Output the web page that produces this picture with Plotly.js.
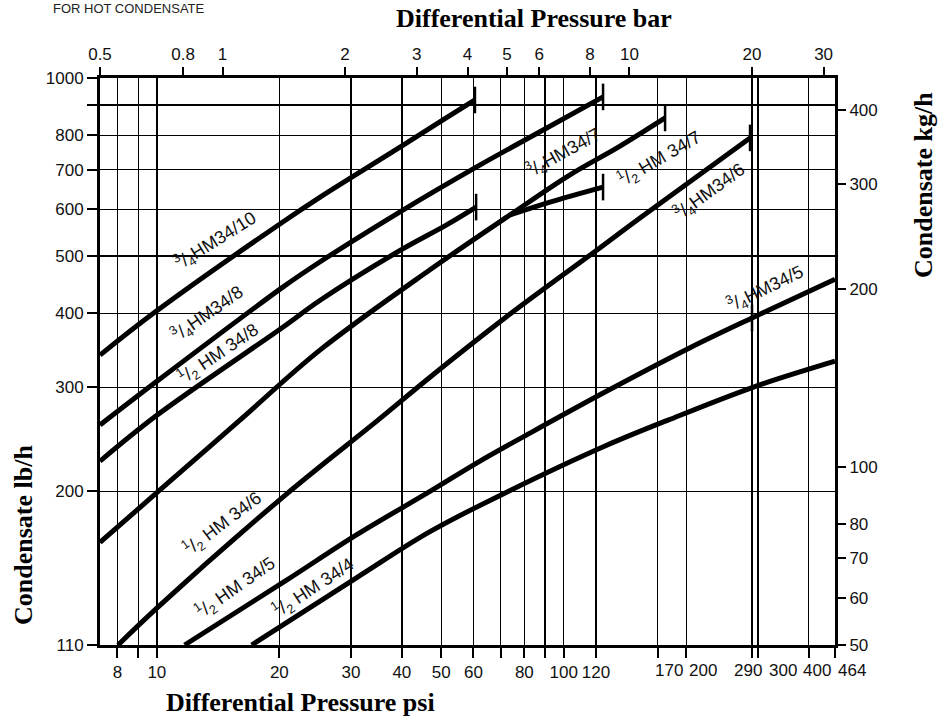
<!DOCTYPE html>
<html>
<head>
<meta charset="utf-8">
<script src="https://cdn.plot.ly/plotly-3.0.1.min.js"></script>
<style>html,body{margin:0;padding:0;background:#fff;}#chart{width:940px;height:719px;}</style>
</head>
<body>
<div id="chart"></div>
<script>
// ---------- axis data ----------
const psiRange = [7.25, 464];
const barRange = [0.5, 32];
const lbRange = [110, 1000];
const kgRange = [50, 453.6];
const psiTicks = [8, 9, 10, 20, 30, 40, 50, 60, 70, 80, 90, 100, 120, 170, 200, 290, 300, 400, 464];
const psiTickText = ['8', '', '10', '20', '30', '40', '50', '60', '', '80', '', '100', '120', '170', '200', '290', '300', '400', '464'];
const barTicks = [0.5, 0.8, 1, 2, 3, 4, 5, 6, 8, 10, 20, 30];
const barTickText = ['0.5', '0.8', '1', '2', '3', '4', '5', '6', '8', '10', '20', '30'];
const lbTicks = [110, 200, 300, 400, 500, 600, 700, 800, 900, 1000];
const lbTickText = ['110', '200', '300', '400', '500', '600', '700', '800', '', '1000'];
const kgTicks = [50, 60, 70, 80, 100, 200, 300, 400];
const kgTickText = ['50', '60', '70', '80', '100', '200', '300', '400'];

// ---------- series (psi, lb/h) ----------
const hm10_34_psi = [7.25, 9.9, 20.4, 25.2, 39.6, 51.4, 60.5];
const hm10_34_lb  = [340, 402, 571, 629, 764, 856, 918];

const hm8_34_psi = [7.25, 10.0, 20.4, 25.2, 39.6, 62.3, 87.4, 124.9];
const hm8_34_lb  = [259, 307, 443, 489, 594, 713, 811, 929];

const hm8_12_psi = [7.25, 10.0, 20.4, 25.2, 39.6, 51.4, 60.9];
const hm8_12_lb  = [225, 269, 379, 421, 511, 564, 605];

const hm7_common_psi = [7.25, 10.0, 16.0, 25.2, 46.9, 73.8];
const hm7_common_lb  = [164, 199, 264, 347, 474, 587];
const hm7_34_psi = [103.6, 137.5, 177.4];
const hm7_34_lb  = [686, 767, 856];
const hm7_12_psi = [92.5, 124.9];
const hm7_12_lb  = [617, 654];

const hm6_psi = [8.03, 10.0, 20.65, 34.95, 46.9, 73.8, 120.7, 153.9, 286.9];
const hm6_lb  = [110, 127, 197, 264, 312, 399, 512, 580, 792];

const hm5_psi = [11.7, 20.65, 31.0, 46.9, 61.5, 82.6, 126.3, 204.3, 290.1, 464];
const hm5_lb  = [110, 141, 169, 200, 224, 251, 294.5, 350, 393, 457];
const hm5_12_limit_index = 8; // 1/2 HM 34/5 ends here, 3/4 continues

const hm4_psi = [17.1, 31.0, 46.9, 73.0, 126.3, 180.4, 291.7, 464];
const hm4_lb  = [110, 143, 171, 200, 238.7, 264, 300, 332];

// ---------- labels ----------
const labelTexts = [
  '<sup>3</sup>/<sub>4</sub>HM34/10',
  '<sup>3</sup>/<sub>4</sub>HM34/8',
  '<sup>1</sup>/<sub>2</sub> HM 34/8',
  '<sup>1</sup>/<sub>2</sub> HM 34/6',
  '<sup>1</sup>/<sub>2</sub> HM 34/5',
  '<sup>1</sup>/<sub>2</sub> HM 34/4',
  '<sup>3</sup>/<sub>4</sub>HM34/7',
  '<sup>1</sup>/<sub>2</sub> HM 34/7',
  '<sup>3</sup>/<sub>4</sub>HM34/6',
  '<sup>3</sup>/<sub>4</sub>HM34/5'
];

// ---------- layout geometry (pixels) ----------
const W = 940, H = 719;
const L = 100, R = 835, T = 78, B = 645;
const px2x = p => (p - L) / (R - L);
const py2y = p => (B - p) / (B - T);

// label placement: [cx, cy, angle, boxWidth]
const labelPos = [
  [215, 240, -32, 104],
  [207, 313, -35, 96],
  [218, 353, -34, 106],
  [222, 523, -37, 106],
  [235, 587, -35, 106],
  [313, 587, -33, 106],
  [563, 152, -29, 96],
  [659, 158, -30, 106],
  [709, 191, -36, 96],
  [765, 288, -26, 96]
];
// crowded bottom tick labels are drawn beside their ticks with a pixel shift
const crowdedShift = {170: 11, 200: 17, 290: -4, 300: 25, 400: 8, 464: 17};

const curveLine = {color: '#000', width: 5, shape: 'spline', smoothing: 1};
const traces = [];
function addCurve(xs, ys, name) {
  traces.push({x: xs, y: ys, type: 'scatter', mode: 'lines', line: curveLine, name: name, hoverinfo: 'x+y+name'});
}
addCurve(hm10_34_psi, hm10_34_lb, '3/4HM34/10');
addCurve(hm8_34_psi, hm8_34_lb, '3/4HM34/8');
addCurve(hm8_12_psi, hm8_12_lb, '1/2 HM 34/8');
addCurve(hm7_common_psi.concat(hm7_34_psi), hm7_common_lb.concat(hm7_34_lb), '3/4HM34/7');
addCurve([hm7_common_psi[hm7_common_psi.length - 1]].concat(hm7_12_psi), [hm7_common_lb[hm7_common_lb.length - 1]].concat(hm7_12_lb), '1/2 HM 34/7');
addCurve(hm6_psi, hm6_lb, 'HM34/6');
addCurve(hm5_psi, hm5_lb, 'HM34/5');
addCurve(hm4_psi, hm4_lb, '1/2 HM 34/4');

// end-of-range markers
const last = a => a[a.length - 1];
const endX = [last(hm10_34_psi), last(hm8_34_psi), last(hm8_12_psi), last(hm7_34_psi), last(hm7_12_psi), last(hm6_psi), hm5_psi[hm5_12_limit_index]];
const endY = [last(hm10_34_lb), last(hm8_34_lb), last(hm8_12_lb), last(hm7_34_lb), last(hm7_12_lb), last(hm6_lb), hm5_lb[hm5_12_limit_index]];
traces.push({x: endX, y: endY, type: 'scatter', mode: 'markers', hoverinfo: 'skip', showlegend: false,
  marker: {symbol: 'line-ns', size: 19, color: '#000', line: {color: '#000', width: 2.5}}});

// invisible trace so the bar / kg/h axes exist
traces.push({x: barRange, y: kgRange, xaxis: 'x2', yaxis: 'y2', type: 'scatter', mode: 'markers',
  marker: {opacity: 0}, hoverinfo: 'skip', showlegend: false});

const tickFont = {family: 'Liberation Sans, Arial, sans-serif', size: 17, color: '#111'};
const titleFont = {family: 'Liberation Serif, Times New Roman, serif', size: 26, color: '#000', weight: 'bold'};
const lg = Math.log10;

const annotations = [];
const shapes = [];
labelPos.forEach((p, i) => {
  const [cx, cy, ang, w] = p;
  annotations.push({text: labelTexts[i], xref: 'paper', yref: 'paper', x: px2x(cx), y: py2y(cy),
    xanchor: 'center', yanchor: 'middle', showarrow: false, textangle: ang,
    font: {family: 'Liberation Sans, Arial, sans-serif', size: 18, color: '#111'}});
  const a = ang * Math.PI / 180, h = 24;
  const ux = Math.cos(a), uy = Math.sin(a), nx = -Math.sin(a), ny = Math.cos(a);
  const pts = [[-1, -1], [1, -1], [1, 1], [-1, 1]].map(([s, t]) =>
    [cx + s * w / 2 * ux + t * h / 2 * nx, cy + s * w / 2 * uy + t * h / 2 * ny]);
  const path = 'M' + pts.map(q => px2x(q[0]).toFixed(5) + ',' + py2y(q[1]).toFixed(5)).join(' L') + ' Z';
  shapes.push({type: 'path', path: path, xref: 'paper', yref: 'paper', fillcolor: '#fff', line: {width: 0}, layer: 'between'});
});

// bottom tick labels: crowded ones become shifted texts
const axisTickText = psiTicks.map((v, i) => (v in crowdedShift) ? '' : psiTickText[i]);
psiTicks.forEach((v, i) => {
  if (v in crowdedShift) {
    annotations.push({text: psiTickText[i], xref: 'x', yref: 'paper', x: lg(v), y: py2y(670),
      xshift: crowdedShift[v], xanchor: 'center', yanchor: 'middle', showarrow: false, font: tickFont});
  }
});

// axis titles as positioned texts
annotations.push({text: '<b>Differential Pressure bar</b>', xref: 'paper', yref: 'paper', x: px2x(534), y: py2y(19),
  xanchor: 'center', yanchor: 'middle', showarrow: false, font: titleFont});
annotations.push({text: '<b>Differential Pressure psi</b>', xref: 'paper', yref: 'paper', x: px2x(300), y: py2y(703),
  xanchor: 'center', yanchor: 'middle', showarrow: false, font: titleFont});
annotations.push({text: '<b>Condensate lb/h</b>', xref: 'paper', yref: 'paper', x: px2x(23), y: py2y(535),
  xanchor: 'center', yanchor: 'middle', showarrow: false, textangle: -90, font: titleFont});
annotations.push({text: '<b>Condensate kg/h</b>', xref: 'paper', yref: 'paper', x: px2x(923), y: py2y(185),
  xanchor: 'center', yanchor: 'middle', showarrow: false, textangle: -90, font: titleFont});
annotations.push({text: 'FOR HOT CONDENSATE', xref: 'paper', yref: 'paper', x: px2x(206), y: py2y(0),
  xanchor: 'right', yanchor: 'top', showarrow: false, borderpad: 0,
  font: {family: 'Liberation Sans, Arial, sans-serif', size: 13, color: '#222'}});

const baseAxis = {
  type: 'log', ticks: 'outside', ticklen: 10, tickwidth: 2, tickcolor: '#000',
  tickfont: tickFont, zeroline: false, tickmode: 'array', tickangle: 0
};

const layout = {
  width: W, height: H,
  margin: {l: L, r: W - R, t: T, b: H - B, pad: 0},
  paper_bgcolor: '#fff', plot_bgcolor: '#fff',
  showlegend: false,
  xaxis: Object.assign({}, baseAxis, {
    range: [lg(psiRange[0]), lg(psiRange[1])], tickvals: psiTicks, ticktext: axisTickText,
    showgrid: true, gridcolor: '#000', gridwidth: 1.4,
    showline: true, linewidth: 3, linecolor: '#000', mirror: true
  }),
  xaxis2: Object.assign({}, baseAxis, {
    overlaying: 'x', side: 'top', anchor: 'y',
    range: [lg(barRange[0]), lg(barRange[1])], tickvals: barTicks, ticktext: barTickText,
    showgrid: false, showline: false
  }),
  yaxis: Object.assign({}, baseAxis, {
    range: [lg(lbRange[0]), lg(lbRange[1])], tickvals: lbTicks, ticktext: lbTickText,
    showgrid: true, gridcolor: '#000', gridwidth: 1.4,
    showline: true, linewidth: 3, linecolor: '#000', mirror: true
  }),
  yaxis2: Object.assign({}, baseAxis, {
    overlaying: 'y', side: 'right', anchor: 'x',
    range: [lg(kgRange[0]), lg(kgRange[1])], tickvals: kgTicks, ticktext: kgTickText,
    showgrid: false, showline: false
  }),
  annotations: annotations,
  shapes: shapes
};

Plotly.newPlot('chart', traces, layout, {displayModeBar: false, staticPlot: true});
</script>
</body>
</html>
